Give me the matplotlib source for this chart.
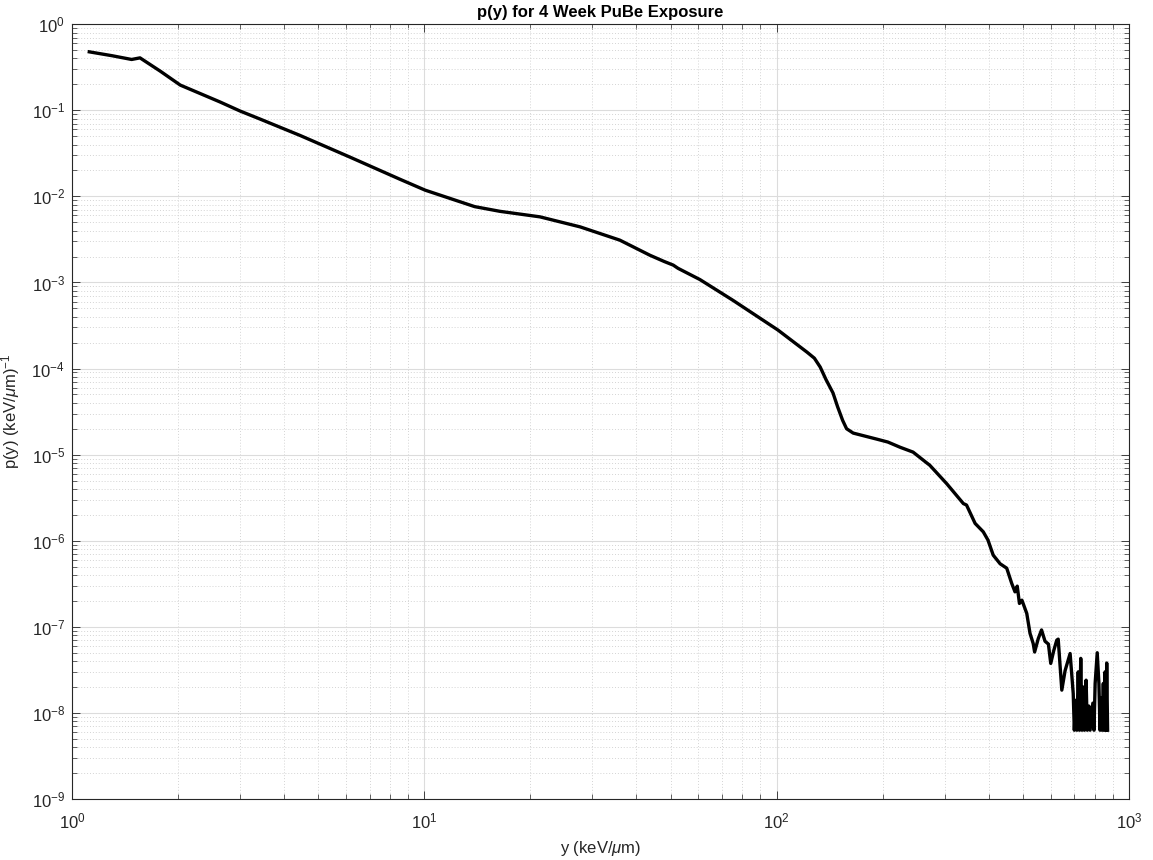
import matplotlib
matplotlib.use('Agg')
import matplotlib.pyplot as plt
from matplotlib.ticker import LogLocator, NullFormatter

plt.rcParams['font.family'] = ['Liberation Sans', 'DejaVu Sans']
plt.rcParams['mathtext.fontset'] = 'custom'
plt.rcParams['mathtext.rm'] = 'Liberation Sans'
plt.rcParams['mathtext.it'] = 'Liberation Sans:italic'
plt.rcParams['axes.unicode_minus'] = False

# values (lineal energy y in keV/um, p(y))
y_kev = [1.12, 1.3, 1.477, 1.56, 1.78, 2.03, 2.63, 3.0, 3.42, 4.44, 6.16, 8.53, 10.06,
         13.9, 16.4, 21.3, 27.7, 35.9, 43.7, 48.0, 50.9, 52.5, 60.6, 75.2, 100.9,
         122, 128, 133, 138, 144.6, 149, 154, 158, 165, 193, 207, 224, 244, 267, 272, 304,
         339, 346, 366, 386, 398, 412, 431, 450, 465, 475, 482, 489,
         497, 513, 524, 535, 540, 553, 565, 578, 591, 600, 612, 624,
         630, 645, 659, 681, 695, 700, 706, 712, 718, 724, 730, 736,
         742, 748, 756, 762, 770, 776, 790, 796, 802, 813, 822, 828,
         835, 840, 846, 851, 856, 861, 865, 870]
p_y = [0.477, 0.43, 0.389, 0.406, 0.285, 0.196, 0.125, 0.098, 0.079, 0.051, 0.0285, 0.0158, 0.0118,
       0.0076, 0.0067, 0.00578, 0.00442, 0.0031, 0.00207, 0.00175, 0.00159, 0.00146, 0.00108, 6.2e-4, 2.8e-4,
       1.55e-4, 1.32e-4, 1.04e-4, 7.5e-5, 5.2e-5, 3.6e-5, 2.5e-5, 2.0e-5, 1.78e-5, 1.51e-5, 1.4e-5, 1.22e-5,
       1.07e-5, 8.0e-6, 7.55e-6, 4.6e-6,
       2.7e-6, 2.6e-6, 1.59e-6, 1.27e-6, 1.02e-6, 6.8e-7, 5.4e-7, 4.8e-7, 3.19e-7, 2.55e-7, 2.97e-7, 1.87e-7,
       2.04e-7, 1.43e-7, 8.4e-8, 6.4e-8, 5.1e-8, 7.3e-8, 9.2e-8, 6.8e-8, 6.3e-8, 3.76e-8, 5.3e-8, 7.0e-8,
       7.2e-8, 1.84e-8, 3.1e-8, 4.9e-8, 1.68e-8, 6.3e-9, 1.4e-8, 6.3e-9, 3.0e-8, 6.3e-9, 4.3e-8, 6.3e-9,
       2.0e-8, 6.3e-9, 2.4e-8, 6.3e-9, 1.2e-8, 6.3e-9, 1.3e-8, 6.3e-9, 2.2e-8, 5.0e-8, 2.2e-8, 6.3e-9,
       1.5e-8, 6.3e-9, 2.2e-8, 6.3e-9, 3.0e-8, 6.3e-9, 3.8e-8, 6.3e-9]

fig = plt.figure(figsize=(11.53, 8.6), dpi=100)
ax = fig.add_axes([0.0624, 0.0709, 0.9167, 0.901])

ax.loglog(y_kev, p_y, color='black', linewidth=2.4)

ax.set_xlim(1, 1000)
ax.set_ylim(1e-9, 1)

# MATLAB-like grid and ticks
ax.xaxis.set_major_locator(LogLocator(base=10, numticks=20))
ax.yaxis.set_major_locator(LogLocator(base=10, numticks=20))
ax.xaxis.set_minor_locator(LogLocator(base=10, subs=range(2, 10), numticks=100))
ax.yaxis.set_minor_locator(LogLocator(base=10, subs=range(2, 10), numticks=100))
ax.xaxis.set_minor_formatter(NullFormatter())
ax.yaxis.set_minor_formatter(NullFormatter())
ax.grid(True, which='major', color='#dcdcdc', linewidth=0.8, linestyle='-')
ax.grid(True, which='minor', color='#d4d4d4', linewidth=0.7, linestyle=(0, (1, 2)))
ax.tick_params(which='both', direction='in', top=True, right=True, colors='#262626',
               labelsize=12)
ax.tick_params(axis='x', which='major', pad=9)
ax.tick_params(axis='y', which='major', pad=5)
ax.tick_params(which='major', length=6, width=0.6)
ax.tick_params(which='minor', length=3.5, width=0.5)
for s in ax.spines.values():
    s.set_color('#262626')
    s.set_linewidth(0.8)

ax.set_title('p(y) for 4 Week PuBe Exposure', fontsize=12, fontweight='bold', pad=5)
ax.set_xlabel('y (keV/$\\mu$m)', fontsize=12, color='#262626')
ax.xaxis.set_label_coords(0.5, -0.052)
ax.set_ylabel('p(y) (keV/$\\mu$m)$^{-1}$', fontsize=12, color='#262626')
ax.yaxis.set_label_coords(-0.047, 0.5)

fig.savefig('out.png', dpi=100)
